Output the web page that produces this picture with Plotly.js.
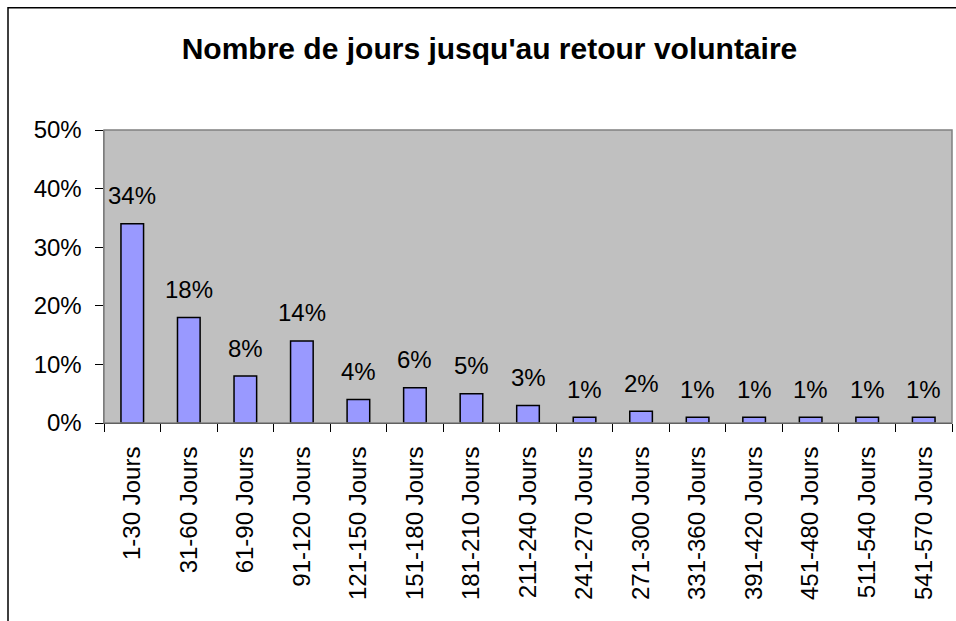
<!DOCTYPE html>
<html>
<head>
<meta charset="utf-8">
<script src="https://cdn.plot.ly/plotly-3.0.1.min.js"></script>
<style>
html,body{margin:0;padding:0;background:#fff;}
#chart{width:956px;height:621px;}
</style>
</head>
<body>
<div id="chart"></div>
<script>
const categories = ["1-30 Jours","31-60 Jours","61-90 Jours","91-120 Jours","121-150 Jours","151-180 Jours","181-210 Jours","211-240 Jours","241-270 Jours","271-300 Jours","331-360 Jours","391-420 Jours","451-480 Jours","511-540 Jours","541-570 Jours"];
const values = [0.34,0.18,0.08,0.14,0.04,0.06,0.05,0.03,0.01,0.02,0.01,0.01,0.01,0.01,0.01];
const yTickValues = [0,0.1,0.2,0.3,0.4,0.5];
const titleText = "Nombre de jours jusqu'au retour voluntaire";

const FONT = "Liberation Sans, Arial, sans-serif";

const trace = {
  type: 'bar',
  x: categories,
  y: values,
  marker: {color: '#9999FF', line: {color: '#000000', width: 1.5}},
  hoverinfo: 'none'
};

const annotations = categories.map((c, i) => ({
  x: c, y: values[i], xref: 'x', yref: 'y',
  text: Math.round(values[i] * 100) + '%',
  showarrow: false, yanchor: 'middle', yshift: 28,
  font: {family: FONT, size: 24, color: '#000'}
}));

const layout = {
  width: 956, height: 621,
  margin: {l: 104, r: 4, t: 130, b: 198, pad: 0},
  paper_bgcolor: '#ffffff',
  plot_bgcolor: '#C0C0C0',
  bargap: 0.6,
  showlegend: false,
  title: {
    text: '<b>' + titleText + '</b>',
    font: {family: FONT, size: 30, color: '#000'},
    xref: 'container', x: 0.512, xanchor: 'center',
    yref: 'container', y: 1 - 48/621, yanchor: 'middle'
  },
  xaxis: {
    type: 'category',
    tickangle: -90,
    tickfont: {family: FONT, size: 24, color: '#000'},
    ticks: 'outside', ticklen: 8, tickwidth: 1, tickcolor: '#000',
    tickson: 'boundaries',
    showline: true, linecolor: '#000', linewidth: 1,
    showgrid: false, zeroline: false,
    ticklabelstandoff: 13,
    fixedrange: true
  },
  yaxis: {
    range: [0, 0.5],
    tickvals: yTickValues,
    tickformat: '.0%',
    tickfont: {family: FONT, size: 24, color: '#000'},
    ticks: 'outside', ticklen: 8, tickwidth: 1, tickcolor: '#000',
    showline: true, linecolor: '#707070', linewidth: 1.5,
    showgrid: false, zeroline: false,
    ticklabelstandoff: 8,
    fixedrange: true
  },
  annotations: annotations,
  shapes: [
    {type: 'rect', xref: 'paper', yref: 'paper', x0: 0, x1: 1, y0: 0, y1: 1,
     line: {color: '#808080', width: 1.5}, fillcolor: 'rgba(0,0,0,0)', layer: 'above'},
    {type: 'rect', xref: 'paper', yref: 'paper',
     x0: (8 - 104) / 848, x1: 1.2, y0: -1.0, y1: (422.5 - 8) / 292.5,
     line: {color: '#000000', width: 1.5}, fillcolor: 'rgba(0,0,0,0)', layer: 'above'}
  ]
};

Plotly.newPlot('chart', [trace], layout, {displayModeBar: false, staticPlot: true});
</script>
</body>
</html>
